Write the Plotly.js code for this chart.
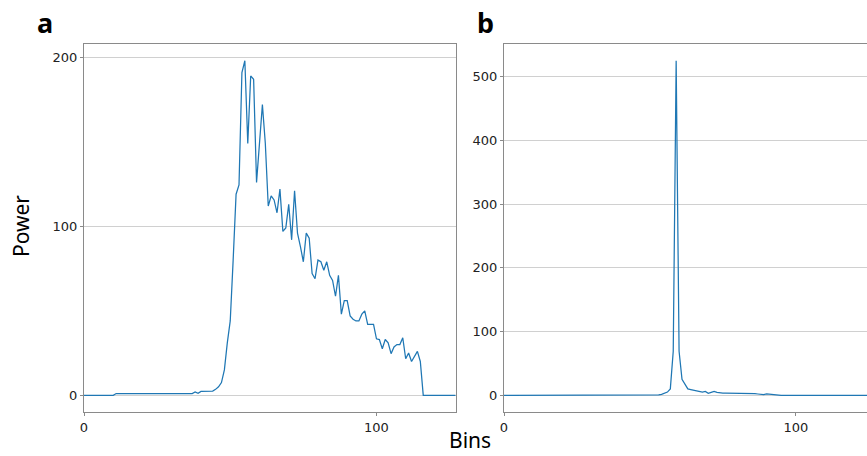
<!DOCTYPE html>
<html>
<head>
<meta charset="utf-8">
<script src="https://cdn.plot.ly/plotly-3.0.1.min.js"></script>
<style>html,body{margin:0;padding:0;background:#fff;}#chart{width:867px;height:456px;}</style>
</head>
<body>
<div id="chart"></div>
<script>
// Panel a: power per bin (bins 0..127)
const binsA = Array.from({length: 128}, (_, i) => i);
const powerA = [
  0,0,0,0,0,0,0,0,0,0,0,            // 0-10
  1,1,1,1,1,1,1,1,1,1,1,1,1,1,1,1,1,1,1,1,1,1,1,1,1,1,1, // 11-37
  2,1.2,2.3,2.3,2.3,2.3,2.5,        // 38-44
  3.5,5,7.5,15,31,44,80,119,124.5,  // 45-53
  191,198,149,189,187,126,151,172,149, // 54-62
  112,118,115.6,108,122,97,99,113,92,121, // 63-72
  96,88,79,96,93,72,69,80,79,74,    // 73-82
  79,71,68,58.6,71,48,56,56,47,45,  // 83-92
  44,44,48,50,42,42,42,33.4,33,27.5, // 93-102
  33,31,24.6,28.6,30,30,34,21.6,25,20, // 103-112
  23,26,20,                          // 113-115
  0,0,0,0,0,0,0,0,0,0,0,0            // 116-127
];
// Panel b: power per bin (bins 0..127)
const binsB = Array.from({length: 128}, (_, i) => i);
const powerB = [
  0,0,0,0,0,0,0,0,0,0,0,0,0,0,0,0,0,0,0,0,   // 0-19
  0,0,0,0,0,0,0,0,0,0,0,0,0,0,0,0,0,0,0,0,   // 20-39
  0,0,0,0,0,0,0,0,0,0,0,0,0,                 // 40-52
  0.5,1.5,3,5,10,69,525,69,25,17,            // 53-62
  10,9,8,6,5,5,6,3,4.5,6,                    // 63-72
  4.5,3.5,3.5,3.5,3.5,3.5,3.5,3,2.5,3,       // 73-82
  3.5,3,2.5,2.5,2,1.5,1,2,1.5,0.5,           // 83-92
  0,0,0,0,0,0,0,0,0,0,0,0,0,0,0,0,0,0,0,0,   // 93-112
  0,0,0,0,0,0,0,0,0,0,0,0,0,0,0              // 113-127
];
const tickFont = {family: 'DejaVu Sans', size: 13, color: '#222'};
const lineColor = '#1f77b4';
const axisGray = '#8a8a8a';

const traces = [
  {x: binsA, y: powerA, type: 'scatter', mode: 'lines', line: {color: lineColor, width: 1.25}, xaxis: 'x', yaxis: 'y', hoverinfo: 'skip'},
  {x: binsB, y: powerB, type: 'scatter', mode: 'lines', line: {color: lineColor, width: 1.25}, xaxis: 'x2', yaxis: 'y2', hoverinfo: 'skip'}
];

const commonX = {
  showgrid: false, zeroline: false, showline: true, linecolor: axisGray, linewidth: 1,
  ticks: 'outside', ticklen: 3, tickcolor: axisGray, tickfont: tickFont,
  tickvals: [0, 100], ticktext: ['0', '100']
};
const commonY = {
  showgrid: true, gridcolor: '#d0d0d0', gridwidth: 1, zeroline: false, showline: true,
  linecolor: axisGray, linewidth: 1, ticks: 'outside', ticklen: 3, tickcolor: axisGray,
  tickfont: tickFont
};

const layout = {
  width: 867, height: 456,
  margin: {l: 0, r: 0, t: 0, b: 0},
  paper_bgcolor: '#fff', plot_bgcolor: '#fff',
  showlegend: false,
  xaxis: Object.assign({}, commonX, {domain: [84/867, 456/867], range: [0, 127.2], mirror: true, anchor: 'y'}),
  yaxis: Object.assign({}, commonY, {domain: [44/456, 412/456], range: [-9.9, 207.9], tickvals: [0, 100, 200], mirror: true, anchor: 'x'}),
  xaxis2: Object.assign({}, commonX, {domain: [504/867, 1], range: [0, 124.4], mirror: true, anchor: 'y2'}),
  yaxis2: Object.assign({}, commonY, {domain: [44/456, 412/456], range: [-26.25, 551.25], tickvals: [0, 100, 200, 300, 400, 500], mirror: false, anchor: 'x2'}),
  annotations: [
    {text: '<b>a</b>', xref: 'paper', yref: 'paper', x: 45/867, y: 1 - 22/456, showarrow: false, font: {family: 'Noto Sans', size: 27, color: '#000'}, xanchor: 'center', yanchor: 'middle'},
    {text: '<b>b</b>', xref: 'paper', yref: 'paper', x: 485/867, y: 1 - 22/456, showarrow: false, font: {family: 'Noto Sans', size: 27, color: '#000'}, xanchor: 'center', yanchor: 'middle'},
    {text: 'Power', xref: 'paper', yref: 'paper', x: 21/867, y: 1 - 226/456, showarrow: false, textangle: -90, font: {family: 'Noto Sans', size: 21, color: '#000'}, xanchor: 'center', yanchor: 'middle'},
    {text: 'Bins', xref: 'paper', yref: 'paper', x: 470/867, y: 0, showarrow: false, font: {family: 'Noto Sans', size: 21, color: '#000'}, xanchor: 'center', yanchor: 'bottom'}
  ]
};

Plotly.newPlot('chart', traces, layout, {staticPlot: true, displayModeBar: false});
</script>
</body>
</html>
